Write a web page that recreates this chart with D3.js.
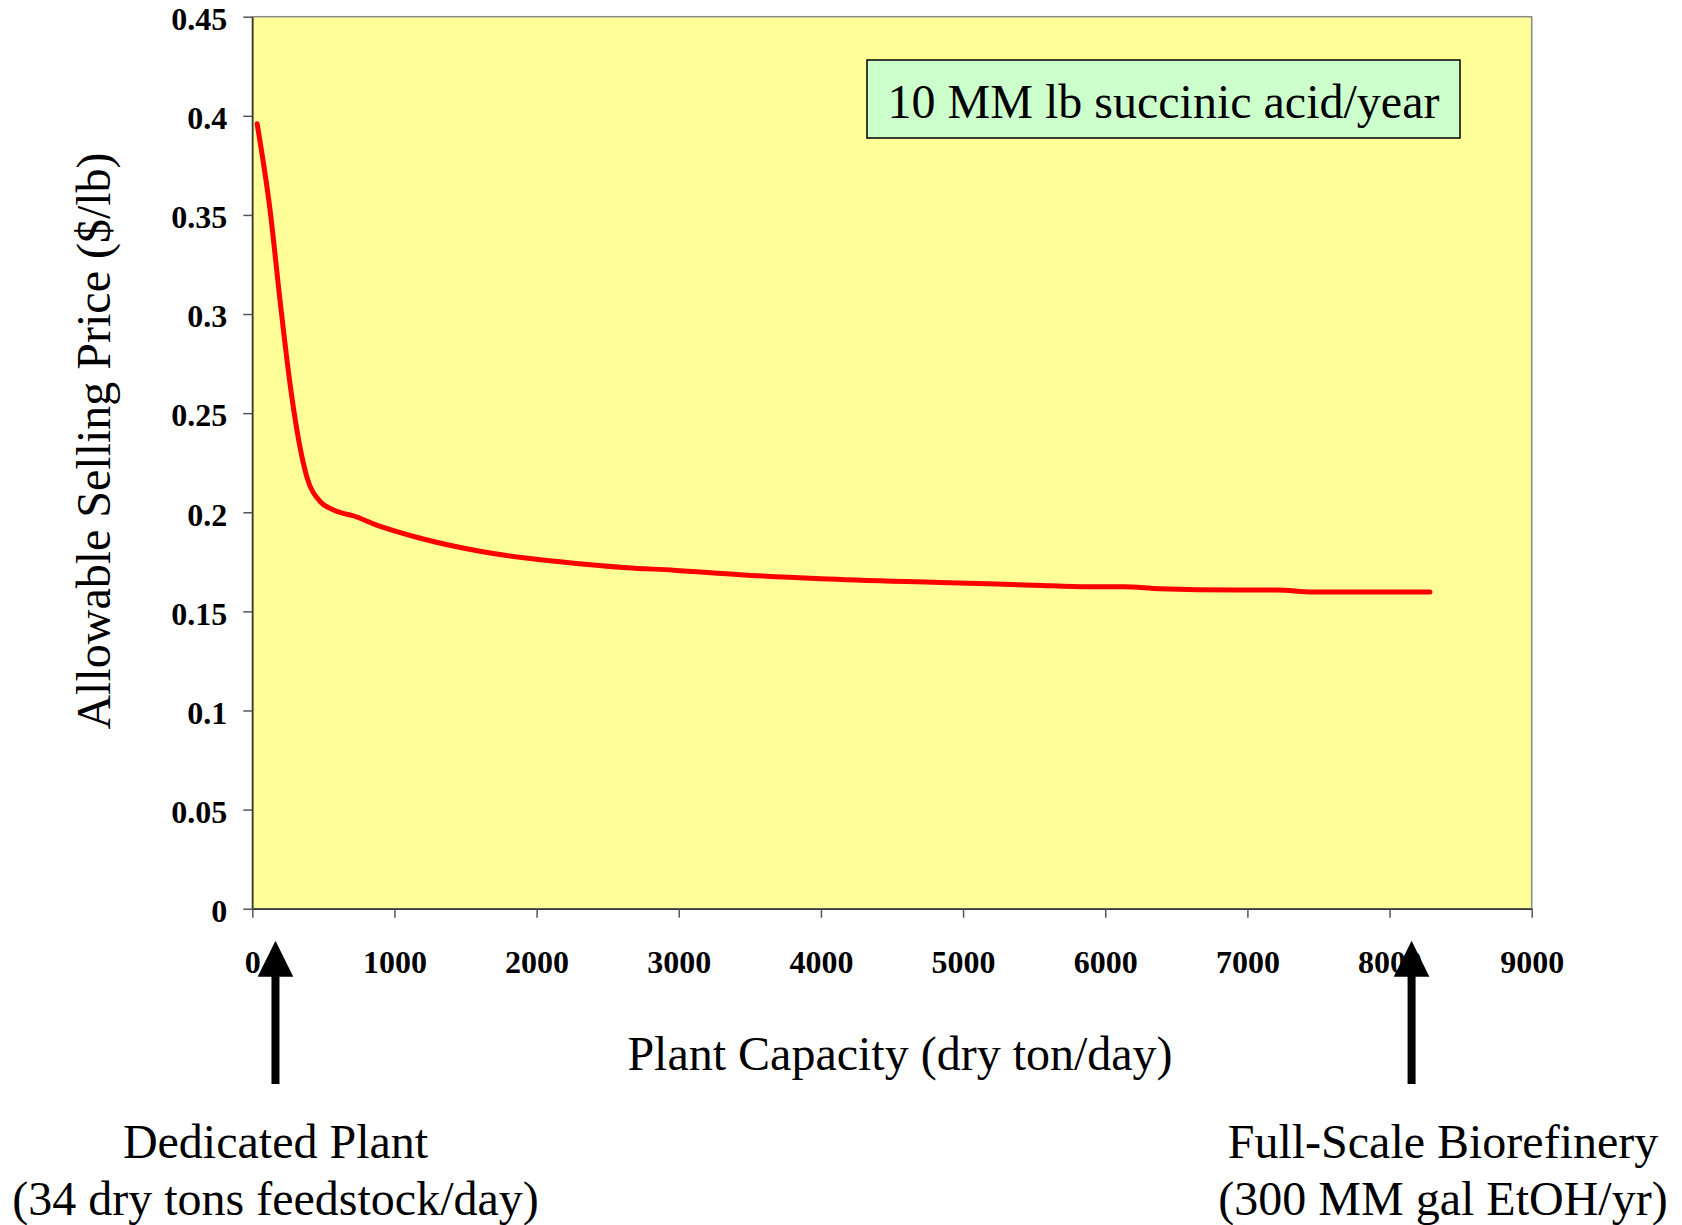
<!DOCTYPE html>
<html>
<head>
<meta charset="utf-8">
<script src="https://cdn.jsdelivr.net/npm/d3@7"></script>
<style>
  body { margin: 0; background: #fff; }
  svg { display: block; }
</style>
</head>
<body>
<svg></svg>
<script>
const width = 1682;
const height = 1225;

// capacity (dry ton/day) and allowable selling price ($/lb)
const capacity = [34, 125, 195, 265, 335, 383, 476, 560, 640, 700, 875, 1156, 1438, 1766, 2165, 2634, 2962, 3430, 4000, 4837, 5500, 5879, 6130, 6382, 6920, 7207, 7459, 8284];
const price = [0.396, 0.3524, 0.3069, 0.265, 0.233, 0.218, 0.2055, 0.2015, 0.1994, 0.1984, 0.1935, 0.1874, 0.1826, 0.1784, 0.175, 0.172, 0.1708, 0.1685, 0.1665, 0.1646, 0.1632, 0.1624, 0.1624, 0.1614, 0.1608, 0.1608, 0.1598, 0.1598];

const xTicks = [0, 1000, 2000, 3000, 4000, 5000, 6000, 7000, 8000, 9000];
const yTicks = [0, 0.05, 0.1, 0.15, 0.2, 0.25, 0.3, 0.35, 0.4, 0.45];
const yTickLabels = ["0", "0.05", "0.1", "0.15", "0.2", "0.25", "0.3", "0.35", "0.4", "0.45"];

// arrows marking the two plant sizes
const arrowAt = [163, 8155];

const serif = "'Liberation Serif', 'Times New Roman', serif";

const svg = d3.select("svg")
  .attr("width", width)
  .attr("height", height);

const x = d3.scaleLinear().domain([0, 9000]).range([252.3, 1531.7]);
const y = d3.scaleLinear().domain([0, 0.45]).range([908.7, 16.7]);

// plot area
svg.append("rect")
  .attr("x", x(0))
  .attr("y", y(0.45))
  .attr("width", x(9000) - x(0))
  .attr("height", y(0) - y(0.45))
  .attr("fill", "#ffff99")
  .attr("stroke", "#888")
  .attr("stroke-width", 1.5);

// axes
const yAxis = svg.append("g")
  .attr("transform", "translate(" + x(0) + ",0)")
  .call(d3.axisLeft(y).tickValues(yTicks).tickSize(9).tickSizeOuter(0)
    .tickFormat((d, i) => yTickLabels[i]));

yAxis.selectAll("text")
  .attr("x", -25)
  .attr("dy", "0.4em");

const xAxis = svg.append("g")
  .attr("transform", "translate(0," + y(0) + ")")
  .call(d3.axisBottom(x).tickValues(xTicks).tickSize(9).tickSizeOuter(0)
    .tickFormat(d3.format("d")));

xAxis.selectAll("text")
  .attr("y", 64)
  .attr("dy", 0);

[yAxis, xAxis].forEach(g => {
  g.attr("font-family", serif)
    .attr("font-size", 32)
    .attr("font-weight", "bold");
  g.selectAll("text").attr("fill", "#000");
  g.select(".domain").attr("stroke", "#333").attr("stroke-width", 1.5);
  g.selectAll(".tick line").attr("stroke", "#555").attr("stroke-width", 1.5);
});

// curve
const line = d3.line()
  .x((d, i) => x(capacity[i]))
  .y(d => y(d))
  .curve(d3.curveMonotoneX);

svg.append("path")
  .datum(price)
  .attr("d", line)
  .attr("fill", "none")
  .attr("stroke", "#ff0000")
  .attr("stroke-width", 5)
  .attr("stroke-linecap", "round");

// annotation box
svg.append("rect")
  .attr("x", 867)
  .attr("y", 60)
  .attr("width", 593)
  .attr("height", 78)
  .attr("fill", "#ccffcc")
  .attr("stroke", "#000")
  .attr("stroke-width", 1.5);

svg.append("text")
  .attr("x", 1163.5)
  .attr("y", 117.5)
  .attr("text-anchor", "middle")
  .attr("font-family", serif)
  .attr("font-size", 48)
  .text("10 MM lb succinic acid/year");

// axis titles
svg.append("text")
  .attr("transform", "translate(110,441) rotate(-90)")
  .attr("text-anchor", "middle")
  .attr("font-family", serif)
  .attr("font-size", 48)
  .text("Allowable Selling Price ($/lb)");

svg.append("text")
  .attr("x", 900)
  .attr("y", 1070)
  .attr("text-anchor", "middle")
  .attr("font-family", serif)
  .attr("font-size", 48)
  .text("Plant Capacity (dry ton/day)");

// arrows
const arrows = svg.selectAll(".arrow")
  .data(arrowAt)
  .enter().append("g")
  .attr("class", "arrow")
  .attr("transform", d => "translate(" + x(d) + ",0)");

arrows.append("rect")
  .attr("x", -4)
  .attr("y", 970)
  .attr("width", 8)
  .attr("height", 114)
  .attr("fill", "#000");

arrows.append("path")
  .attr("d", "M0,940.7 L17.8,976.7 L-17.8,976.7 Z")
  .attr("fill", "#000");

// captions under the arrows
const captions = [
  { cx: 275.5, lines: ["Dedicated Plant", "(34 dry tons feedstock/day)"] },
  { cx: 1443, lines: ["Full-Scale Biorefinery", "(300 MM gal EtOH/yr)"] }
];

captions.forEach(c => {
  c.lines.forEach((t, i) => {
    svg.append("text")
      .attr("x", c.cx)
      .attr("y", 1158 + i * 57)
      .attr("text-anchor", "middle")
      .attr("font-family", serif)
      .attr("font-size", 48)
      .text(t);
  });
});
</script>
</body>
</html>
